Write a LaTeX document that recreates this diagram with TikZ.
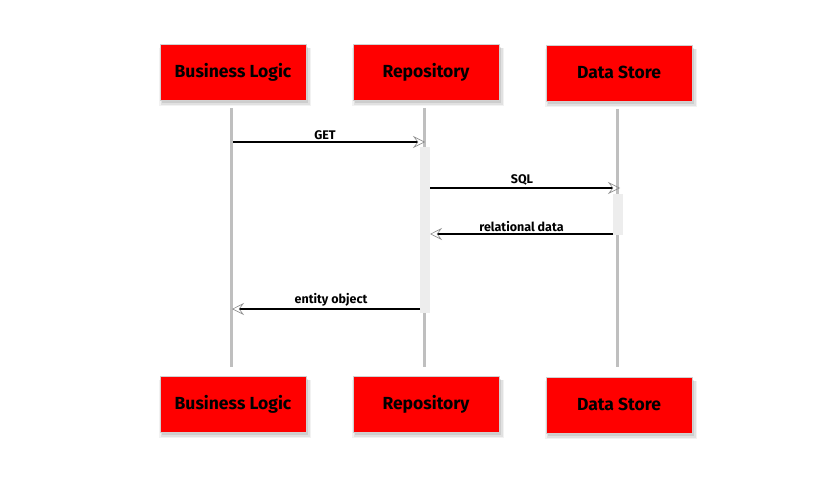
\documentclass[tikz,border=0pt]{standalone}
\usepackage{fontspec}
\setmainfont{Fira Sans}
\usetikzlibrary{arrows.meta,shadows}
\definecolor{boxred}{RGB}{255,0,0}
\begin{document}
\begin{tikzpicture}[x=1pt,y=-1pt,
 softshadow/.style={
   drop shadow={shadow xshift=2pt, shadow yshift=-5pt, shadow scale=1.04, opacity=0.05, fill=black},
   drop shadow={shadow xshift=2pt, shadow yshift=-4pt, shadow scale=1.02, opacity=0.07, fill=black},
   drop shadow={shadow xshift=1.5pt, shadow yshift=-3pt, opacity=0.09, fill=black}},
 actor/.style={draw=black!18, line width=0.8pt, fill=boxred, minimum width=146pt, minimum height=56pt, inner sep=0pt,
   font=\bfseries\fontsize{17.5}{20}\selectfont, softshadow},
 life/.style={draw=black!25, line width=3pt},
 act/.style={fill=black!7, draw=none, minimum width=10pt, inner sep=0pt},
 msg/.style={line width=1.4pt, -{Stealth[open, length=12pt, width=12pt, inset=4.5pt, color=black!45, line width=0.6pt]}},
 lbl/.style={font=\bfseries\fontsize{12.5}{14}\selectfont, inner sep=2pt}]
\useasboundingbox (0,0) rectangle (830,500);
% actors
\node[actor] (blT) at (233,72) {\raisebox{1pt}{Business Logic}};
\node[actor] (repT) at (426,72) {\raisebox{2pt}{Repository}};
\node[actor] (dsT) at (619,73) {\raisebox{1pt}{Data Store}};
\node[actor] (blB) at (233,404) {\raisebox{1pt}{Business Logic}};
\node[actor] (repB) at (426,404) {\raisebox{2pt}{Repository}};
\node[actor] (dsB) at (619,405) {\raisebox{1pt}{Data Store}};
% lifelines
\coordinate (blL1) at (231,108); \coordinate (blL2) at (231,367);
\coordinate (repL1) at (424,108); \coordinate (repL2) at (424,367);
\coordinate (dsL1) at (617,109); \coordinate (dsL2) at (617,367);
\draw[life] (blL1) -- (blL2);
\draw[life] (repL1) -- (repL2);
\draw[life] (dsL1) -- (dsL2);
% activations
\node[act, minimum height=166pt] (repA) at (425,230) {};
\node[act, minimum height=41pt] (dsA) at (618,214.5) {};
% messages
\coordinate (m1s) at (233,142); \coordinate (m1e) at (425,142);
\coordinate (m2s) at (430,188); \coordinate (m2e) at (620,188);
\coordinate (m3s) at (613,234); \coordinate (m3e) at (430,234);
\coordinate (m4s) at (420,309); \coordinate (m4e) at (232,309);
\draw[msg] (m1s) -- node[lbl, above, xshift=-4pt] {GET} (m1e);
\draw[msg] (m2s) -- node[lbl, above, xshift=-3pt] {SQL} (m2e);
\draw[msg] (m3s) -- node[lbl, above] {relational data} (m3e);
\draw[msg] (m4s) -- node[lbl, above, xshift=5pt] {entity object} (m4e);
\end{tikzpicture}
\end{document}
